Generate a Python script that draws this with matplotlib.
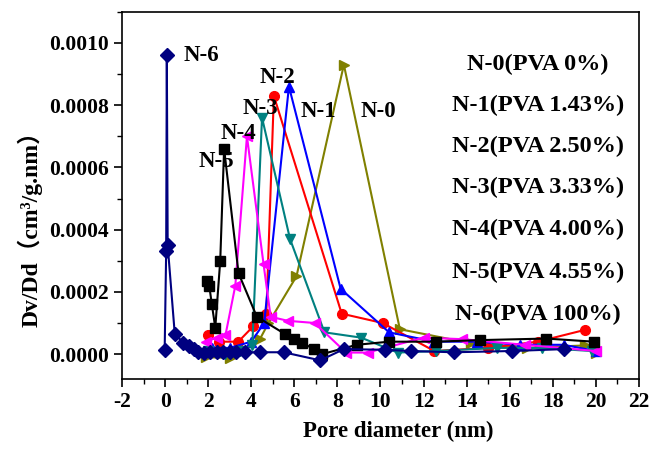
import matplotlib
matplotlib.use("Agg")
import matplotlib.pyplot as plt
from matplotlib.ticker import MultipleLocator

plt.rcParams['font.family'] = ['Liberation Serif', 'Noto Sans CJK SC', 'DejaVu Serif']
plt.rcParams['font.weight'] = 'bold'
plt.rcParams['axes.unicode_minus'] = False

# N-0 (PVA 0%)
n0_x = [1.9, 3.0, 4.4, 4.8, 6.1, 8.3, 10.9, 14.2, 16.8, 19.5, 20.0]
n0_y = [-0.00001, -0.000012, 0.000048, 0.0001, 0.00025, 0.00093, 0.00008, 0.000035, 0.00002, 0.000028, 0.000005]
# N-1 (PVA 1.43%)
n1_x = [2.0, 2.5, 3.4, 4.1, 4.7, 5.05, 8.2, 10.1, 12.5, 15.0, 17.3, 19.5]
n1_y = [0.00006, 0.00004, 0.00004, 0.00009, 0.00013, 0.00083, 0.00013, 0.0001, 0.00001, 0.00002, 0.00004, 0.000078]
# N-2 (PVA 2.50%)
n2_x = [2.2, 3.0, 4.0, 4.6, 5.75, 8.15, 10.4, 12.5, 14.5, 16.5, 18.5, 20.0]
n2_y = [0.00002, 0.00002, 0.00004, 0.0001, 0.00086, 0.00021, 0.00007, 0.00004, 0.00004, 0.00003, 0.00003, 0.00001]
# N-3 (PVA 3.33%)
n3_x = [2.0, 2.8, 3.5, 4.05, 4.5, 5.8, 7.4, 9.1, 10.8, 12.6, 15.4, 17.5, 19.8]
n3_y = [0.00001, 0.0, 0.00001, 0.00003, 0.00076, 0.00037, 0.00007, 0.000053, 0.000005, 0.00001, 0.00002, 0.00002, 0.00001]
# N-4 (PVA 4.00%)
n4_x = [1.9, 2.4, 2.8, 3.26, 3.8, 4.57, 4.9, 5.7, 6.95, 8.4, 9.4, 12.0, 13.8, 16.7, 20.0]
n4_y = [0.00004, 0.000053, 0.00006, 0.00022, 0.0007, 0.00029, 0.00012, 0.000107, 0.0001, 0.000005, 0.000005, 0.000053, 0.000048, 0.00003, 0.00001]
# N-5 (PVA 4.55%)
n5_x = [1.94, 2.05, 2.17, 2.33, 2.56, 2.74, 3.41, 4.26, 5.58, 5.97, 6.36, 6.9, 7.29, 8.9, 10.4, 12.6, 14.6, 17.7, 19.9]
n5_y = [0.000235, 0.00022, 0.00016, 0.000085, 0.0003, 0.00066, 0.00026, 0.00012, 0.000064, 0.000048, 0.000037, 0.000016, 0.0, 0.00003, 0.00004, 0.00004, 0.000045, 0.00005, 0.00004]
# N-6 (PVA 100%)
n6_x = [-0.02, 0.05, 0.08, 0.12, 0.45, 0.85, 1.1, 1.32, 1.55, 1.8, 2.1, 2.4, 2.7, 3.0, 3.3, 3.7, 4.4, 5.5, 7.2, 8.3, 10.2, 11.4, 13.4, 16.1, 18.5]
n6_y = [0.000012, 0.00033, 0.00096, 0.00035, 0.000064, 0.000037, 0.000027, 0.000016, 0.000008, 0.000005, 0.000006, 0.000006, 0.000006, 0.000006, 0.000006, 0.000006, 0.000006, 0.000006, -0.00002, 0.000016, 0.000014, 0.00001, 0.000006, 0.00001, 0.000016]

series = [
    (n0_x, n0_y, '#808000', '>'),
    (n1_x, n1_y, '#FF0000', 'o'),
    (n2_x, n2_y, '#0000FF', '^'),
    (n3_x, n3_y, '#008080', 'v'),
    (n4_x, n4_y, '#FF00FF', '<'),
    (n5_x, n5_y, '#000000', 's'),
    (n6_x, n6_y, '#000080', 'D'),
]

peak_labels = ['N-0', 'N-1', 'N-2', 'N-3', 'N-4', 'N-5', 'N-6']
peak_pos = [(9.9, 0.00078), (7.1, 0.00078), (5.2, 0.00089), (4.4, 0.00079),
            (3.4, 0.00071), (2.4, 0.00062), (1.7, 0.00096)]
legend_texts = ['N-0(PVA 0%)', 'N-1(PVA 1.43%)', 'N-2(PVA 2.50%)', 'N-3(PVA 3.33%)',
                'N-4(PVA 4.00%)', 'N-5(PVA 4.55%)', 'N-6(PVA 100%)']
legend_y = [0.00093, 0.0008, 0.000667, 0.000535, 0.0004, 0.000263, 0.000128]

fig = plt.figure(figsize=(6.56, 4.55), dpi=100)
ax = fig.add_axes([0.186, 0.167, 0.788, 0.807])

for x, y, c, m in series:
    ax.plot(x, y, color=c, marker=m, markersize=7, linewidth=1.5, zorder=3)

for lab, (px, py) in zip(peak_labels, peak_pos):
    ax.text(px, py, lab, fontsize=16.5, fontweight='bold', ha='center', va='center', zorder=4)

for t, ly in zip(legend_texts, legend_y):
    ax.text(17.3, ly, t, fontsize=17.5, fontweight='bold', ha='center', va='center')

ax.set_xlim(-2, 22)
ax.set_ylim(-0.00008, 0.0011)
ax.xaxis.set_major_locator(MultipleLocator(2))
ax.xaxis.set_minor_locator(MultipleLocator(1))
ax.yaxis.set_major_locator(MultipleLocator(0.0002))
ax.yaxis.set_minor_locator(MultipleLocator(0.0001))
ax.yaxis.set_major_formatter(plt.FuncFormatter(lambda v, p: f"{v:.4f}"))
ax.tick_params(which='major', direction='out', length=6, width=1.2, labelsize=15.5)
ax.tick_params(which='minor', direction='out', length=3.5, width=1.0)
for lbl in ax.get_xticklabels() + ax.get_yticklabels():
    lbl.set_fontweight('bold')
for s in ax.spines.values():
    s.set_linewidth(1.2)

ax.set_xlabel('Pore diameter (nm)', fontsize=16.5, fontweight='bold')
ax.xaxis.set_label_coords(0.535, -0.115)
ax.set_ylabel('Dv/Dd（cm³/g.nm）', fontsize=17, fontweight='bold')
ax.yaxis.set_label_coords(-0.153, 0.425)

fig.savefig('out.png', dpi=100)
